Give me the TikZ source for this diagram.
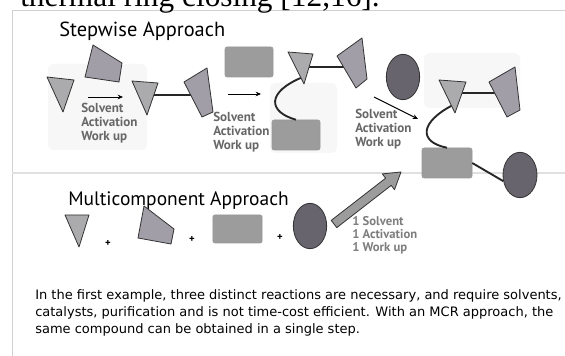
\documentclass[tikz,border=0pt]{standalone}
\usepackage{fontspec}
\setmainfont{PT Sans}
\newfontfamily\pagefont{Liberation Serif}
\newfontfamily\notefont{DejaVu Sans}
\usepackage{tikz}
\usetikzlibrary{shapes.geometric,arrows.meta}

\definecolor{stone}{HTML}{ABABAE}
\definecolor{plate}{HTML}{A29EA8}
\definecolor{slabgray}{HTML}{9C9C9C}
\definecolor{beadgray}{HTML}{67646E}
\definecolor{condgray}{HTML}{676767}

\begin{document}
\begin{tikzpicture}[x=0.75pt, y=-0.75pt,
  every node/.style={inner sep=0pt},
  panel/.style={fill=black!3, rounded corners=4pt},
  outline/.style={draw=black!80, line width=0.6pt, line join=round},
  tri/.style={outline, fill=stone},
  quad/.style={outline, fill=plate},
  slab/.style={rectangle, rounded corners=1.5pt, fill=slabgray, draw=black!40,
               line width=0.4pt, minimum width=36pt, minimum height=22.5pt},
  bead/.style={ellipse, outline, fill=beadgray, minimum width=25pt,
               minimum height=34pt},
  link/.style={line width=1.4pt, black!85},
  go/.style={-{Stealth[length=4pt,width=3.5pt]}, line width=0.7pt},
  cond/.style={font=\fontsize{9.8}{10.5}\selectfont\bfseries, text=condgray,
               align=left, anchor=base west},
  title/.style={font=\fontsize{15.3}{18}\selectfont, anchor=base west},
  plus/.style={font=\fontsize{8}{8}\selectfont\bfseries}]

\useasboundingbox (0,0) rectangle (565,356);
\clip (0,0) rectangle (565,356);
\fill[white] (0,0) rectangle (565,356);

% scanned page: frame of the figure and the faint boxes behind it
\draw[black!18, line width=0.6pt] (12,356) -- (12,10) -- (565,10);
\draw[black!12, line width=0.8pt] (12,173) -- (565,173);
\fill[panel] (48,64) rectangle (147,150);
\fill[panel] (270,83) rectangle (337,153);
\fill[panel] (424,53) rectangle (520,108);

\node[font=\pagefont\fontsize{23.5}{26}\selectfont, anchor=base west] (prev) at (20,7)
  {thermal ring closing [12,16].};

% stepwise approach
\node[title] (stepT) at (59,37) {Stepwise Approach};

\node[slab] (r1) at (249,62) {};
\node[slab] (r2) at (296,135) {};
\node[slab, minimum width=37.5pt] (r3) at (447,163) {};
\node[bead] (e1) at (403,77) {};
\node[bead, minimum width=25.5pt] (e2) at (520,175) {};

\coordinate (t2) at (150,95);  \coordinate (q2) at (195,95);
\coordinate (t3) at (300,67);  \coordinate (q3) at (350,67);
\coordinate (t3b) at (303,77);
\coordinate (t4) at (458,93);  \coordinate (q4) at (500,93);
\coordinate (t4b) at (453,105);
\coordinate (go1a) at (88,97);  \coordinate (go1b) at (123,97);
\coordinate (go2a) at (228,94); \coordinate (go2b) at (261,94);
\coordinate (go3a) at (374,97); \coordinate (go3b) at (418,119);

\draw[link] (t2) -- (q2);
\draw[link] (t3) -- (q3);
\draw[link] (t3b) .. controls (266,92) and (268,112) .. (r2.north);
\draw[link] (t4) -- (q4);
\draw[link] (t4b) .. controls (420,122) and (418,142) .. (r3.north);
\draw[link] (r3.east) -- (e2.200);

\draw[go] (go1a) -- (go1b);
\draw[go] (go2a) -- (go2b);
\draw[go] (go3a) -- (go3b);

\draw[tri] (47,77) -- (74,80) -- (63,112) -- cycle;
\draw[quad] (93,45) -- (122,63) -- (119,82) -- (85,77) -- cycle;
\draw[tri] (132,81) -- (158,83) -- (147,115) -- cycle;
\draw[quad] (184,82) -- (207,68) -- (213,112) -- (202,117) -- cycle;
\draw[tri] (288,52) -- (313,54) -- (304,84) -- cycle;
\draw[quad] (337,56) -- (362,38) -- (367,79) -- (356,88) -- cycle;
\draw[tri] (439,80) -- (466,82) -- (455,113) -- cycle;
\draw[quad] (489,82) -- (515,67) -- (520,110) -- (507,117) -- cycle;

% anchor base sits on the last line
\node[cond] (c1) at (81,141) {Solvent\\Activation\\Work up};
\node[cond] (c2) at (213,150) {Solvent\\Activation\\Work up};
\node[cond] (c3) at (355,147) {Solvent\\Activation\\Work up};

% multicomponent approach
\node[title, font=\fontsize{14.6}{18}\selectfont] (mcrT) at (68,206)
  {Multicomponent Approach};

\draw[tri] (65,215) -- (89,215) -- (79,247) -- cycle;
\draw[quad] (144,206) -- (174,229) -- (171,244) -- (138,238) -- cycle;
\node[slab, minimum width=37pt, minimum height=21pt] (r4) at (237.5,229) {};
\node[bead] (e3) at (310,226) {};
\node[plus] (p1) at (108,243) {+};
\node[plus] (p2) at (192,239) {+};
\node[plus] (p3) at (280,237) {+};

% one pot block arrow
\filldraw[outline, fill=slabgray] (331.2,220.4) -- (385.6,178.2) -- (382.3,173.9)
  -- (401,172) -- (394.5,189.7) -- (391.2,185.4) -- (336.8,227.6) -- cycle;

\node[cond, font=\fontsize{9.5}{9.8}\selectfont\bfseries, text=condgray!85] (c4)
  at (352,252) {1 Solvent\\1 Activation\\1 Work up};

\node[font=\notefont\fontsize{9.75}{12.75}\selectfont, align=left, anchor=base west]
  (note) at (35,334)
  {In the first example, three distinct reactions are necessary, and require solvents,\\
   catalysts, purification and is not time-cost efficient. With an MCR approach, the\\
   same compound can be obtained in a single step.};
\end{tikzpicture}
\end{document}
